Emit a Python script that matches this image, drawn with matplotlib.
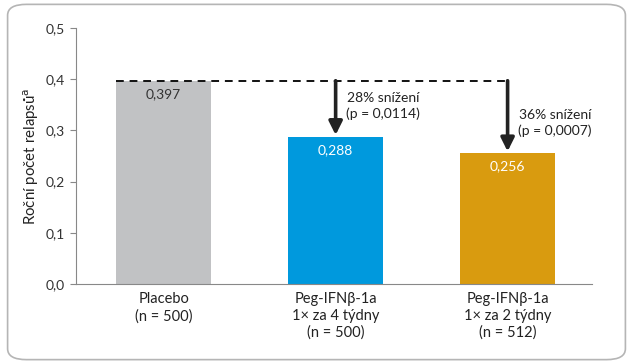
import matplotlib.pyplot as plt
from matplotlib.patches import FancyBboxPatch

plt.rcParams["font.family"] = ["Lato", "DejaVu Sans"]

groups = ["Placebo\n(n = 500)",
          "Peg-IFNβ-1a\n1× za 4 týdny\n(n = 500)",
          "Peg-IFNβ-1a\n1× za 2 týdny\n(n = 512)"]
values = [0.397, 0.288, 0.256]
value_labels = ["0,397", "0,288", "0,256"]
reductions = ["28% snížení\n(p = 0,0114)", "36% snížení\n(p = 0,0007)"]
yticks = [0.0, 0.1, 0.2, 0.3, 0.4, 0.5]
colors = ["#c1c2c4", "#0099dd", "#d99b0f"]

fig = plt.figure(figsize=(6.33, 3.64), dpi=100)
fig.patches.append(FancyBboxPatch((0.012, 0.012), 0.976, 0.976,
                                  boxstyle="round,pad=0,rounding_size=0.03",
                                  transform=fig.transFigure, facecolor="white",
                                  edgecolor="#b5b5b5", linewidth=1.2, zorder=-1))
ax = fig.add_axes([0.120, 0.220, 0.815, 0.703])
ax.patch.set_alpha(0)

x = list(range(len(values)))
ax.bar(x, values, width=0.55, color=colors, zorder=2)
for xi, v, lab, c in zip(x, values, value_labels, ["#333333", "white", "white"]):
    ax.text(xi, v - 0.014, lab, ha="center", va="top", color=c, fontsize=10)

# baseline dashed line and arrows
ax.plot([x[0] - 0.275, x[2]], [values[0], values[0]], ls=(0, (4, 3)),
        color="#111111", lw=1.4, zorder=3)
for xi, v, txt in zip(x[1:], values[1:], reductions):
    ax.annotate("", xy=(xi, v + 0.003), xytext=(xi, values[0]),
                arrowprops=dict(arrowstyle="-|>,head_width=0.4,head_length=0.8",
                                color="#222222", lw=2.6, shrinkA=0, shrinkB=0),
                zorder=3)
    ax.text(xi + 0.275, values[0] - (0.022 if xi == 1 else 0.055), txt,
            ha="center", va="top", fontsize=10, color="#222222", linespacing=1.35)

ax.set_xlim(-0.51, 2.49)
ax.set_ylim(0, 0.5)
ax.set_yticks(yticks)
ax.set_yticklabels([f"{t:.1f}".replace(".", ",") for t in yticks], fontsize=10,
                   color="#333333")
ax.set_xticks(x)
ax.set_xticklabels(groups, fontsize=10.5, color="#222222", linespacing=1.25)
ax.tick_params(axis="x", length=0, pad=6)
ax.tick_params(axis="y", length=4, color="#888888", pad=4)
for s in ["top", "right"]:
    ax.spines[s].set_visible(False)
for s in ["left", "bottom"]:
    ax.spines[s].set_color("#888888")
    ax.spines[s].set_linewidth(0.8)
ax.set_ylabel("Roční počet relapsů$^{\\mathrm{a}}$", fontsize=10.8, color="#222222",
              labelpad=3)

plt.savefig("out.png", dpi=100)
